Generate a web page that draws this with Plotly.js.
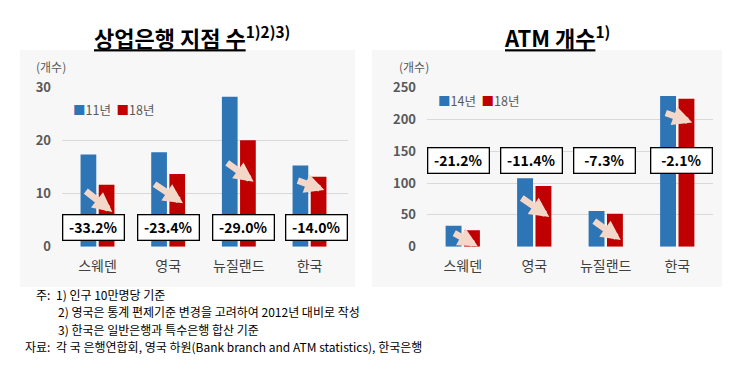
<!DOCTYPE html>
<html><head><meta charset="utf-8">
<script src="https://cdn.plot.ly/plotly-3.0.1.min.js"></script>
<style>html,body{margin:0;padding:0;background:#fff;}#chart{width:745px;height:385px;}</style>
</head><body><div id="chart"></div>
<script>
// ---- data ----
const categories = ['스웨덴', '영국', '뉴질랜드', '한국'];

const branchSeriesNames = ['11년', '18년'];
const branch2011 = [17.4, 17.8, 28.3, 15.3];
const branch2018 = [11.7, 13.7, 20.1, 13.2];
const branchChange = ['-33.2%', '-23.4%', '-29.0%', '-14.0%'];

const atmSeriesNames = ['14년', '18년'];
const atm2014 = [33, 107.5, 56, 237];
const atm2018 = [26, 95.4, 52, 232.5];
const atmChange = ['-21.2%', '-11.4%', '-7.3%', '-2.1%'];

const branchTicks = [0, 10, 20, 30];
const atmTicks = [0, 50, 100, 150, 200, 250];

const footLabels = ['주:', '', '', '자료:'];
const footTexts = [
  '1) 인구 10만명당 기준',
  '2) 영국은 통계 편제기준 변경을 고려하여 2012년 대비로 작성',
  '3) 한국은 일반은행과 특수은행 합산 기준',
  '각 국 은행연합회, 영국 하원(Bank branch and ATM statistics), 한국은행'
];

// ---- style ----
const BLUE = '#2e75b6', RED = '#c00000';
const FONT = '"Noto Sans CJK KR", "Noto Sans", sans-serif';
const W = 745, H = 385;
const px = v => v / W, py = v => 1 - v / H;

const traces = [
  {type:'bar', x:categories, y:branch2011, name:branchSeriesNames[0], marker:{color:BLUE}, xaxis:'x', yaxis:'y', hoverinfo:'none'},
  {type:'bar', x:categories, y:branch2018, name:branchSeriesNames[1], marker:{color:RED}, xaxis:'x', yaxis:'y', hoverinfo:'none'},
  {type:'bar', x:categories, y:atm2014, name:atmSeriesNames[0], marker:{color:BLUE}, xaxis:'x2', yaxis:'y2', hoverinfo:'none'},
  {type:'bar', x:categories, y:atm2018, name:atmSeriesNames[1], marker:{color:RED}, xaxis:'x2', yaxis:'y2', hoverinfo:'none'}
];

const yDom = [py(246.7), py(87.7)];
const axCommonY = {
  showgrid:true, gridcolor:'#d9d9d9', gridwidth:1, zeroline:false, showline:false,
  ticks:'', ticklabelstandoff:10, tickfont:{family:FONT, size:13, color:'#595959', weight:'bold'}, fixedrange:true
};
const axCommonX = {
  type:'category', showgrid:false, zeroline:false, showline:false, ticks:'', ticklabelstandoff:9,
  tickfont:{family:FONT, size:14, color:'#404040'}, fixedrange:true
};

const annotations = [];
// titles
annotations.push({xref:'paper', yref:'paper', x:px(192), y:py(36), xanchor:'center', yanchor:'middle', showarrow:false,
  text:'<u>상업은행 지점 수</u><sup>1)2)3)</sup>', font:{family:FONT, size:22, color:'#000', weight:'bold'}});
annotations.push({xref:'paper', yref:'paper', x:px(557), y:py(36), xanchor:'center', yanchor:'middle', showarrow:false,
  text:'<u>ATM 개수</u><sup>1)</sup>', font:{family:FONT, size:22, color:'#000', weight:'bold'}});
// unit labels
annotations.push({xref:'paper', yref:'paper', x:px(34), y:py(67), xanchor:'left', yanchor:'middle', showarrow:false,
  text:'(개수)', font:{family:FONT, size:12, color:'#595959'}});
annotations.push({xref:'paper', yref:'paper', x:px(397), y:py(67), xanchor:'left', yanchor:'middle', showarrow:false,
  text:'(개수)', font:{family:FONT, size:12, color:'#595959'}});
// legends
function legendText(names){
  return '<span style="color:'+BLUE+'">■</span>'+names[0]+'  <span style="color:'+RED+'">■</span>'+names[1];
}
annotations.push({xref:'paper', yref:'paper', x:px(71), y:py(109), xanchor:'left', yanchor:'middle', showarrow:false,
  text:legendText(branchSeriesNames), font:{family:FONT, size:12.5, color:'#595959'}});
annotations.push({xref:'paper', yref:'paper', x:px(436), y:py(101), xanchor:'left', yanchor:'middle', showarrow:false,
  text:legendText(atmSeriesNames), font:{family:FONT, size:12.5, color:'#595959'}});

// decorative arrows (pixel offsets: tail -> head), head given relative to red bar
const ARROW = {showarrow:true, arrowhead:2, arrowsize:0.6, arrowwidth:6.5, arrowcolor:'#f3d8ca', standoff:0, text:''};
const branchArrowHeadFrac = [0.56, 0.60, 0.61, 0.81];
const branchArrowTail = [[-28,-22],[-30,-20],[-28,-20],[-28,-10]];
const atmArrowHeadFrac = [0.02, 0.49, 0.2, 0.84];
const atmArrowTail = [[-25,-14],[-29,-20],[-28,-20],[-28,-10]];
categories.forEach((c,i)=>{
  annotations.push(Object.assign({}, ARROW, {xref:'x', yref:'y', x:i+0.21, y:branch2018[i]*branchArrowHeadFrac[i],
    ax:branchArrowTail[i][0], ay:branchArrowTail[i][1]}));
  annotations.push(Object.assign({}, ARROW, {xref:'x2', yref:'y2', x:i+0.21, y:atm2018[i]*atmArrowHeadFrac[i],
    ax:atmArrowTail[i][0], ay:atmArrowTail[i][1]}));
});
// percentage boxes
const BOX = {showarrow:false, bgcolor:'#ffffff', bordercolor:'#000000', borderwidth:1.3, borderpad:2, width:56, height:20,
  font:{family:FONT, size:14, color:'#000', weight:'bold'}, xanchor:'center', yanchor:'middle'};
categories.forEach((c,i)=>{
  annotations.push(Object.assign({}, BOX, {xref:'x', yref:'y', x:i, y:3.6, xshift:[-4,0,5,7][i], text:branchChange[i]}));
  annotations.push(Object.assign({}, BOX, {xref:'x2', yref:'y2', x:i, y:135.5, xshift:[-4,-3,-1,4][i], text:atmChange[i]}));
});
// footnotes: label column (right aligned) + text column (left aligned), one line each
const FOOT_TOP = 294, FOOT_STEP = 17.5;
footTexts.forEach((t,i)=>{
  const yy = py(FOOT_TOP + i*FOOT_STEP);
  if (footLabels[i]) {
    annotations.push({xref:'paper', yref:'paper', x:px(52), y:yy, xanchor:'right', yanchor:'middle',
      showarrow:false, text:footLabels[i], font:{family:FONT, size:12, color:'#000'}});
  }
  annotations.push({xref:'paper', yref:'paper', x:px(i===0||i===3 ? 54 : 56), y:yy, xanchor:'left', yanchor:'middle',
    showarrow:false, text:t, font:{family:FONT, size:12, color:'#000'}});
});

const layout = {
  width:W, height:H, margin:{l:0,r:0,t:0,b:0}, paper_bgcolor:'#ffffff', plot_bgcolor:'rgba(0,0,0,0)',
  showlegend:false, barmode:'group', bargap:0.486, bargroupgap:0.135,
  xaxis:Object.assign({}, axCommonX, {domain:[px(62), px(348)], anchor:'y'}),
  yaxis:Object.assign({}, axCommonY, {domain:yDom, range:[0,30], tickvals:branchTicks, anchor:'x'}),
  xaxis2:Object.assign({}, axCommonX, {domain:[px(427), px(713)], anchor:'y2'}),
  yaxis2:Object.assign({}, axCommonY, {domain:yDom, range:[0,250], tickvals:atmTicks, anchor:'x2'}),
  shapes:[
    {type:'rect', xref:'paper', yref:'paper', x0:px(20), x1:px(355), y0:py(287), y1:py(50), fillcolor:'#f7f7f7', line:{width:0}, layer:'below'},
    {type:'rect', xref:'paper', yref:'paper', x0:px(372), x1:px(722), y0:py(287), y1:py(50), fillcolor:'#f7f7f7', line:{width:0}, layer:'below'}
  ],
  annotations:annotations,
  font:{family:FONT}
};

Plotly.newPlot('chart', traces, layout, {staticPlot:true, displayModeBar:false});
</script>
</body></html>
